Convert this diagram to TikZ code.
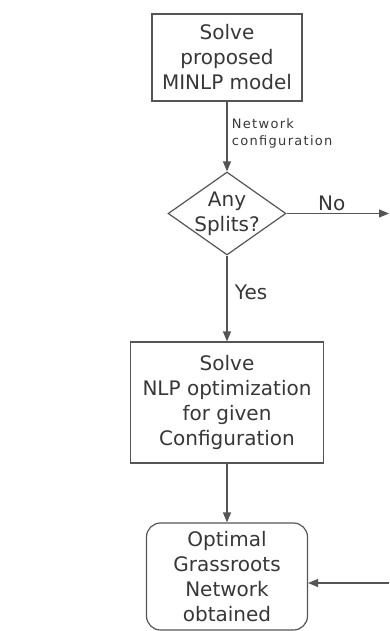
\documentclass[tikz,border=0pt]{standalone}
\usepackage{fontspec}
\setmainfont{DejaVu Sans}
\newfontfamily\labelfont[LetterSpace=10]{DejaVu Sans}
\usetikzlibrary{positioning}
\usetikzlibrary{arrows.meta}
\usetikzlibrary{shapes.geometric}
\definecolor{inkgray}{RGB}{85,85,85}
\definecolor{textgray}{RGB}{55,55,55}

\begin{document}
\begin{tikzpicture}[
            x = 1pt, y = 1pt,
            > = {Triangle[length=10pt,width=8pt]}, % arrow head style
            line width = 1.2pt, % line style
            font = \fontsize{20}{25}\selectfont
        ]

        \tikzstyle{process}=[
            draw = inkgray,
            rectangle,
            align = center,
            text = textgray
        ]
        \tikzstyle{decision}=[
            draw = inkgray,
            diamond,
            aspect = 1.42,
            inner sep = -2pt,
            align = center,
            text = textgray
        ]

        \useasboundingbox (0,0) rectangle (390,-631);

	% main chain
        \node[process, minimum width=150pt, minimum height=87pt] (minlp) at (227,-57.5) {Solve\\proposed\\MINLP model};
        \node[decision] (split) [below of=minlp, node distance=156pt] {Any\\Splits?};
        \node[process, minimum width=193pt, minimum height=121pt] (nlp) [below of=split, node distance=189pt] {Solve\\NLP optimization\\for given\\Configuration};
        \node[process, rounded corners=14pt, minimum width=161pt, minimum height=107pt] (opt) [below of=nlp, node distance=174pt] {Optimal\\Grassroots\\Network\\obtained};

        % loose ends on the right
        \coordinate (noend) at (389,-213.5);
        \coordinate (back) at (389,-583);

        \path[->, inkgray] (minlp) edge node[right, align=left, text=textgray, font=\labelfont\fontsize{13}{17}\selectfont, yshift=3pt, xshift=1pt] {Network\\configuration} (split);
        \path[->, inkgray] (split) edge node[right, text=textgray, xshift=4pt, yshift=6pt] {Yes} (nlp);
        \path[->, inkgray] (nlp) edge node {} (opt);
        \path[->, inkgray] (split.east) edge node[above, text=textgray, xshift=-6pt, yshift=-1pt] {No} (noend);
        \path[->, inkgray] (back) edge node {} (back -| opt.east);

  \end{tikzpicture}
\end{document}
